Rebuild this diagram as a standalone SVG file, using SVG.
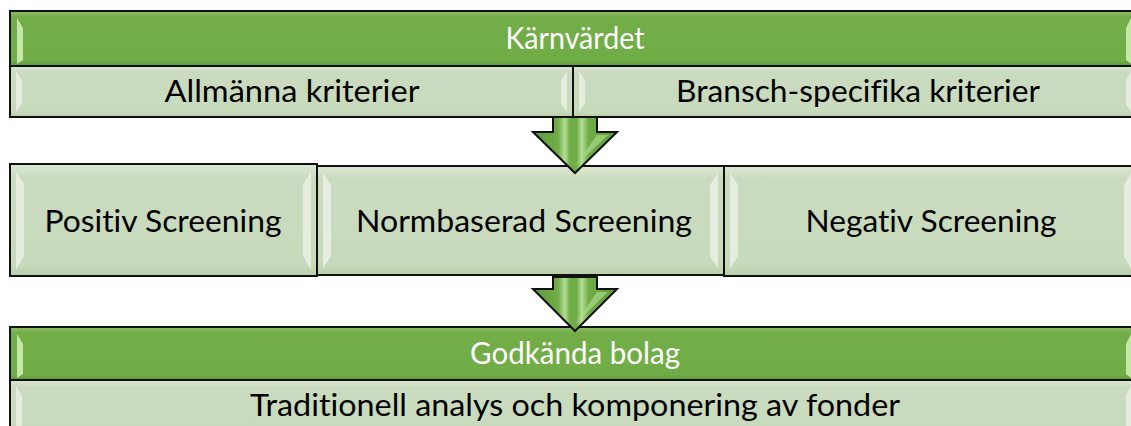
<svg xmlns="http://www.w3.org/2000/svg" width="1131" height="426" viewBox="0 0 1131 426">
<defs>
<linearGradient id="gDark" x1="0" y1="0" x2="0" y2="1">
<stop offset="0" stop-color="#8DBE6C"/><stop offset="0.12" stop-color="#72AD48"/><stop offset="0.9" stop-color="#70AD47"/><stop offset="1" stop-color="#5E9A3A"/>
</linearGradient>
<linearGradient id="gLight" x1="0" y1="0" x2="0" y2="1">
<stop offset="0" stop-color="#DCE8D3"/><stop offset="0.12" stop-color="#CADBBF"/><stop offset="0.9" stop-color="#C8DABC"/><stop offset="1" stop-color="#B9CFAB"/>
</linearGradient>
<linearGradient id="gArrow" x1="0" y1="0" x2="1" y2="0">
<stop offset="0" stop-color="#5E9A3A"/><stop offset="0.3" stop-color="#70AD47"/><stop offset="0.38" stop-color="#B6DD98"/><stop offset="0.44" stop-color="#70AD47"/><stop offset="0.52" stop-color="#70AD47"/><stop offset="0.58" stop-color="#B6DD98"/><stop offset="0.66" stop-color="#70AD47"/><stop offset="1" stop-color="#5E9A3A"/>
</linearGradient>
</defs>
<style>
.dark{fill:url(#gDark);stroke:#111;stroke-width:2}
.light{fill:url(#gLight);stroke:#111;stroke-width:2}
.bev{fill:#ffffff;opacity:0.5}
.bevd{fill:#D8F5BE;opacity:0.8}
.tw{font-family:Lato,"Liberation Sans",Arial,sans-serif;font-size:30px;fill:#ffffff;text-anchor:middle;font-variant-ligatures:none}
.tb{font-family:Lato,"Liberation Sans",Arial,sans-serif;font-size:30px;fill:#000000;text-anchor:middle;font-variant-ligatures:none}
.arrow{fill:url(#gArrow);stroke:#111;stroke-width:2;stroke-linejoin:miter}
.hl{fill:#A9D88A;opacity:0.7}
</style>

<g id="karnvardet">
<rect class="dark" x="10" y="11" width="1130" height="55"/>
<polygon class="bevd" points="17,18 23,28 23,60 17,64"/>
<polygon class="bevd" points="1131,18 1126,28 1126,60 1131,64"/>
<text class="tw" x="575" y="49" textLength="139" lengthAdjust="spacingAndGlyphs">Kärnvärdet</text>
</g>

<g id="allmanna">
<rect class="light" x="10" y="66" width="563" height="51"/>
<polygon class="bev" points="16,71 22,80 22,104 16,112"/>
<polygon class="bev" points="567,71 561,80 561,104 567,112"/>
<text class="tb" x="292" y="102" textLength="255" lengthAdjust="spacingAndGlyphs">Allmänna kriterier</text>
</g>

<g id="bransch">
<rect class="light" x="573" y="66" width="567" height="51"/>
<polygon class="bev" points="579,71 585,80 585,104 579,112"/>
<polygon class="bev" points="1131,71 1126,80 1126,104 1131,112"/>
<text class="tb" x="858" y="102" textLength="364" lengthAdjust="spacingAndGlyphs">Bransch-specifika kriterier</text>
</g>

<g id="positiv">
<rect class="light" x="10" y="164" width="307" height="112"/>
<polygon class="bev" points="16,172 24,184 24,256 16,270"/>
<polygon class="bev" points="311,172 303,184 303,256 311,270"/>
<text class="tb" x="163" y="232" textLength="237" lengthAdjust="spacingAndGlyphs">Positiv Screening</text>
</g>

<g id="normbaserad">
<rect class="light" x="317" y="166" width="407" height="109"/>
<polygon class="bev" points="323,173 331,185 331,256 323,269"/>
<polygon class="bev" points="718,173 710,185 710,256 718,269"/>
<text class="tb" x="524" y="232" textLength="336" lengthAdjust="spacingAndGlyphs">Normbaserad Screening</text>
</g>

<g id="negativ">
<rect class="light" x="724" y="166" width="416" height="110"/>
<polygon class="bev" points="730,173 738,185 738,256 730,269"/>
<polygon class="bev" points="1131,173 1124,185 1124,256 1131,269"/>
<text class="tb" x="931" y="232" textLength="251" lengthAdjust="spacingAndGlyphs">Negativ Screening</text>
</g>

<g id="godkanda">
<rect class="dark" x="10" y="327" width="1130" height="53"/>
<polygon class="bevd" points="17,334 23,344 23,374 17,378"/>
<polygon class="bevd" points="1131,334 1126,344 1126,374 1131,378"/>
<text class="tw" x="575" y="364" textLength="210" lengthAdjust="spacingAndGlyphs">Godkända bolag</text>
</g>

<g id="traditionell">
<rect class="light" x="10" y="380" width="1130" height="60"/>
<polygon class="bev" points="16,386 22,395 22,426 16,426"/>
<polygon class="bev" points="1131,386 1126,395 1126,426 1131,426"/>
<text class="tb" x="575" y="416" textLength="650" lengthAdjust="spacingAndGlyphs">Traditionell analys och komponering av fonder</text>
</g>

<g id="connectors">
<path class="arrow" d="M553,117 L597,117 L597,132 L617,132 L575,173 L533,132 L553,132 Z"/>
<path class="hl" d="M575,166 L608,135 L597,135 Z"/>
<path class="arrow" d="M553,277 L597,277 L597,289 L617,289 L575,331 L533,289 L553,289 Z"/>
<path class="hl" d="M575,324 L608,292 L597,292 Z"/>
</g>
</svg>
